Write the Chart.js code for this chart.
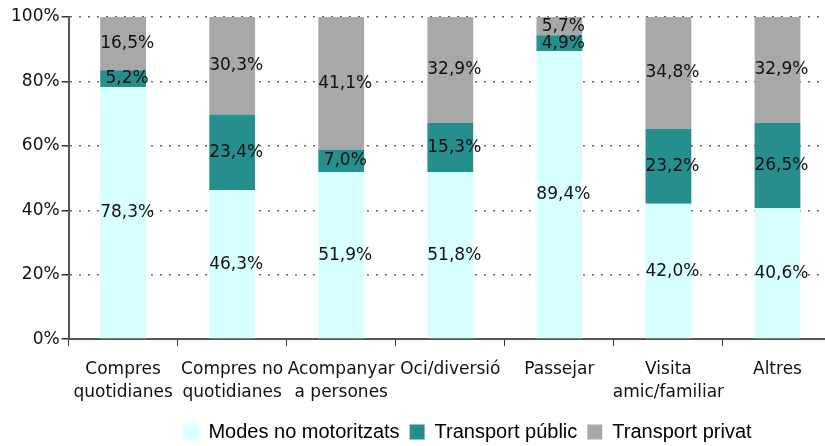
<!DOCTYPE html>
<html>
<head>
<meta charset="utf-8">
<script src="https://cdn.jsdelivr.net/npm/chart.js@4.4.1/dist/chart.umd.min.js"></script>
<style>
  html, body { margin: 0; padding: 0; background: #fff; overflow: hidden; }
  #wrap { width: 832px; height: 446px; }
</style>
</head>
<body>
<div id="wrap"><canvas id="data-chart"></canvas></div>
<script>
// Dati
var categorie = [
	["Compres", "quotidianes"],
	["Compres no", "quotidianes"],
	["Acompanyar", "a persones"],
	"Oci/diversió",
	"Passejar",
	["Visita", "amic/familiar"],
	"Altres"
];
var modes_no_motoritzats = [78.3, 46.3, 51.9, 51.8, 89.4, 42.0, 40.6];
var transport_public     = [5.2, 23.4, 7.0, 15.3, 4.9, 23.2, 26.5];
var transport_privat     = [16.5, 30.3, 41.1, 32.9, 5.7, 34.8, 32.9];
var y_ticks = [0, 20, 40, 60, 80, 100];

// etichette dentro le barre
var etichette = {
	id: 'etichette',
	afterDatasetsDraw: function(chart){
		var ctx = chart.ctx;
		ctx.save();
		ctx.font = '17px "DejaVu Sans"';
		ctx.fillStyle = '#111';
		ctx.textAlign = 'center';
		ctx.textBaseline = 'middle';
		chart.data.datasets.forEach(function(ds, i){
			chart.getDatasetMeta(i).data.forEach(function(bar, j){
				var txt = ds.data[j].toFixed(1).replace('.', ',') + '%';
				ctx.fillText(txt, bar.x + 4, (bar.y + bar.base) / 2);
			});
		});
		ctx.restore();
	}
};

// sposta la legenda un po' a destra
var spostaLegenda = {
	id: 'spostaLegenda',
	afterLayout: function(chart){
		var lg = chart.legend;
		lg.left += 47; lg.right += 47;
		lg.top -= 4; lg.bottom -= 4;
	}
};

var ctx = document.getElementById('data-chart').getContext('2d');
var myChart = new Chart(ctx, {
	type: 'bar',
	data: {
		labels: categorie,
		datasets: [{
			label: 'Modes no motoritzats',
			backgroundColor: '#D8FFFF',
			data: modes_no_motoritzats
		},{
			label: 'Transport públic',
			backgroundColor: '#278E8E',
			data: transport_public
		},{
			label: 'Transport privat',
			backgroundColor: '#A8A8A8',
			data: transport_privat
		}]
	},
	options: {
		responsive: true,
		maintainAspectRatio: false,
		animation: false,
		barPercentage: 0.42,
		categoryPercentage: 1,
		layout: { padding: { top: 17, right: 0, left: 9, bottom: -10 } },
		plugins: {
			tooltip: { enabled: false },
			legend: {
				position: 'bottom',
				labels: {
					boxWidth: 15,
					boxHeight: 15,
					padding: 10,
					color: '#000',
					font: { family: '"Liberation Sans"', size: 20 }
				}
			}
		},
		scales: {
			x: {
				stacked: true,
				border: { color: '#555', width: 2 },
				grid: { drawOnChartArea: false, tickLength: 7, color: '#333', offset: true },
				ticks: {
					color: '#111',
					maxRotation: 0,
					autoSkip: false,
					padding: 12,
					font: { family: '"DejaVu Sans"', size: 17, lineHeight: 1.35 }
				}
			},
			y: {
				stacked: true,
				min: 0,
				max: 100,
				afterBuildTicks: function(axis){
					axis.ticks = y_ticks.map(function(v){ return { value: v }; });
				},
				border: { color: '#555', width: 2, dash: [2, 7] },
				grid: {
					color: '#666',
					lineWidth: 1.5,
					tickColor: '#333',
					tickLength: 7,
					tickBorderDash: []
				},
				ticks: {
					color: '#111',
					padding: 2,
					font: { family: '"DejaVu Sans"', size: 17 },
					callback: function(v){ return v + '%'; }
				}
			}
		}
	},
	plugins: [etichette, spostaLegenda]
});
</script>
</body>
</html>
